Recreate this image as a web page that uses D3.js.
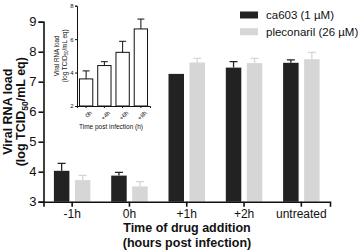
<!DOCTYPE html>
<html>
<head>
<meta charset="utf-8">
<script src="https://cdn.jsdelivr.net/npm/d3@7"></script>
<style>
  body { margin: 0; background: #fff; }
  text { font-family: "Liberation Sans", Arial, sans-serif; }
</style>
</head>
<body>
<svg id="chart" width="358" height="250"></svg>
<script>
// Main chart data
const groups = ["-1h", "0h", "+1h", "+2h", "untreated"];
const seriesNames = ["ca603 (1 \u00b5M)", "pleconaril (26 \u00b5M)"];
const ca603 = [4.03, 3.87, 7.26, 7.47, 7.63];
const ca603Err = [0.25, 0.11, 0.0, 0.2, 0.1];
const pleconaril = [3.72, 3.51, 7.64, 7.62, 7.75];
const pleconarilErr = [0.16, 0.16, 0.14, 0.16, 0.23];
const yTicks = [3, 4, 5, 6, 7, 8, 9];

// Inset data
const insetLabels = ["0h", "+4h", "+6h", "+8h"];
const insetValues = [3.62, 4.42, 5.21, 6.61];
const insetErr = [0.48, 0.23, 0.66, 0.59];
const insetTicks = [2, 4, 6, 8];

const colors = ["#222222", "#d6d6d6"];
const svg = d3.select("#chart");

// Scales for the main chart.
const x = d3.scaleBand().domain(groups).range([43.5, 330]).padding(0);
const y = d3.scaleLinear().domain([3, 9]).range([201.7, 21.7]);
const barW = 15.5;
const offsets = [-10.5, 10.5];

const series = [
  { name: seriesNames[0], values: ca603, err: ca603Err, color: colors[0] },
  { name: seriesNames[1], values: pleconaril, err: pleconarilErr, color: colors[1] }
];

series.forEach((s, si) => {
  const g = svg.append("g");
  g.selectAll("rect")
    .data(groups)
    .enter().append("rect")
    .attr("x", (d, i) => x(d) + x.bandwidth() / 2 + offsets[si] - barW / 2)
    .attr("y", (d, i) => y(s.values[i]))
    .attr("width", barW)
    .attr("height", (d, i) => y(3) - y(s.values[i]))
    .attr("fill", s.color);
  // error bars (upper only)
  g.selectAll(".err")
    .data(groups.filter((d, i) => s.err[i] > 0))
    .enter().append("path")
    .attr("class", "err")
    .attr("d", d => {
      const i = groups.indexOf(d);
      const cx = x(d) + x.bandwidth() / 2 + offsets[si];
      const y0 = y(s.values[i]);
      const y1 = y(s.values[i] + s.err[i]);
      return `M${cx},${y0}V${y1}M${cx - 4},${y1}H${cx + 4}`;
    })
    .attr("stroke", s.color)
    .attr("stroke-width", 1.3)
    .attr("fill", "none");
});

// Axes
const yAxis = svg.append("g")
  .attr("transform", `translate(${x.range()[0]},0)`)
  .call(d3.axisLeft(y).tickValues(yTicks).tickFormat(d3.format("d")).tickSize(5).tickPadding(2));
const xAxis = svg.append("g")
  .attr("transform", `translate(0,${y(3)})`)
  .call(d3.axisBottom(x).tickSize(5).tickPadding(3));
[yAxis, xAxis].forEach(a => {
  a.select(".domain").attr("stroke", "#111").attr("stroke-width", 1.6);
  a.selectAll(".tick line").attr("stroke", "#111").attr("stroke-width", 1.6);
  a.selectAll(".tick text")
    .attr("font-family", "Liberation Sans, Arial, sans-serif")
    .attr("font-size", 13)
    .attr("fill", "#111");
});
xAxis.selectAll(".tick text").attr("font-size", 12);

// Axis titles
const yTitle = svg.append("text")
  .attr("transform", `translate(11.5,${(y(3) + y(9)) / 2}) rotate(-90)`)
  .attr("text-anchor", "middle")
  .attr("font-size", 12.5)
  .attr("font-weight", "bold")
  .attr("fill", "#111");
yTitle.append("tspan").attr("x", 0).attr("y", 0).text("Viral RNA load");
const yl2 = yTitle.append("tspan").attr("x", 0).attr("y", 13.5).text("(log TCID");
yl2.append("tspan").attr("font-size", 8.5).attr("dy", 3).text("50");
yl2.append("tspan").attr("dy", -3).text("/mL eq)");

svg.append("text")
  .attr("x", 187).attr("y", 231.5)
  .attr("text-anchor", "middle")
  .attr("font-size", 12.5).attr("font-weight", "bold").attr("fill", "#111")
  .text("Time of drug addition");
svg.append("text")
  .attr("x", 187).attr("y", 246.5)
  .attr("text-anchor", "middle")
  .attr("font-size", 12.5).attr("font-weight", "bold").attr("fill", "#111")
  .text("(hours post infection)");

// Legend
const legend = svg.append("g");
series.forEach((s, i) => {
  legend.append("rect")
    .attr("x", 240).attr("y", 11.5 + i * 16.7)
    .attr("width", 18).attr("height", 7)
    .attr("fill", s.color);
  legend.append("text")
    .attr("x", 266).attr("y", 19 + i * 16.7)
    .attr("font-size", 11.5).attr("fill", "#111")
    .text(s.name);
});

// Inset chart
const ix = d3.scaleBand().domain(insetLabels).range([77, 150]).padding(0);
const iy = d3.scaleLinear().domain([2, 8]).range([106, 5.7]);
const ibarW = 13.3;
const inset = svg.append("g");
inset.selectAll("rect")
  .data(insetLabels)
  .enter().append("rect")
  .attr("x", d => ix(d) + ix.bandwidth() / 2 - ibarW / 2)
  .attr("y", (d, i) => iy(insetValues[i]))
  .attr("width", ibarW)
  .attr("height", (d, i) => iy(2) - iy(insetValues[i]))
  .attr("fill", "#fff")
  .attr("stroke", "#111")
  .attr("stroke-width", 1);
inset.selectAll(".err")
  .data(insetLabels)
  .enter().append("path")
  .attr("class", "err")
  .attr("d", (d, i) => {
    const cx = ix(d) + ix.bandwidth() / 2;
    const y0 = iy(insetValues[i]);
    const y1 = iy(insetValues[i] + insetErr[i]);
    return `M${cx},${y0}V${y1}M${cx - 3.5},${y1}H${cx + 3.5}`;
  })
  .attr("stroke", "#111").attr("stroke-width", 1).attr("fill", "none");

const iyAxis = inset.append("g")
  .attr("transform", `translate(${ix.range()[0]},0)`)
  .call(d3.axisLeft(iy).tickValues(insetTicks).tickFormat(d3.format("d")).tickSize(2).tickPadding(1.5));
const ixAxis = inset.append("g")
  .attr("transform", `translate(0,${iy(2)})`)
  .call(d3.axisBottom(ix).tickSize(2).tickPadding(2));
[iyAxis, ixAxis].forEach(a => {
  a.select(".domain").attr("stroke", "#111").attr("stroke-width", 1);
  a.selectAll(".tick line").attr("stroke", "#111");
  a.selectAll(".tick text")
    .attr("font-family", "Liberation Sans, Arial, sans-serif")
    .attr("font-size", 6).attr("fill", "#111");
});
ixAxis.selectAll(".tick text")
  .attr("text-anchor", "end")
  .attr("transform", "translate(2,3) rotate(-45)")
  .attr("dy", "0.35em");

const iTitle = inset.append("text")
  .attr("transform", `translate(59,${(iy(2) + iy(8)) / 2}) rotate(-90)`)
  .attr("text-anchor", "middle")
  .attr("font-size", 6.3).attr("fill", "#111");
iTitle.append("tspan").attr("x", 0).attr("y", 0).text("Viral RNA load");
const it2 = iTitle.append("tspan").attr("x", 0).attr("y", 7.5).text("(log TCID");
it2.append("tspan").attr("font-size", 4.5).attr("dy", 1.5).text("50");
it2.append("tspan").attr("dy", -1.5).text("/mL eq)");

inset.append("text")
  .attr("x", 111).attr("y", 128.5)
  .attr("text-anchor", "middle")
  .attr("font-size", 6.5).attr("fill", "#111")
  .text("Time post infection (h)");
</script>
</body>
</html>
